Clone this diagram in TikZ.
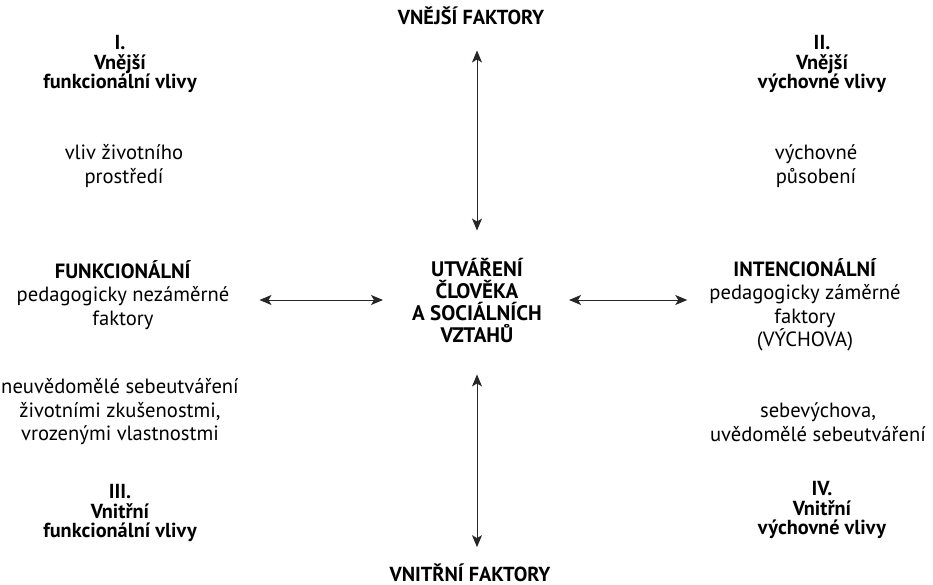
\documentclass[tikz,border=0pt]{standalone}
\usepackage{fontspec}
\setmainfont{PT Sans}
\usetikzlibrary{arrows.meta}
\tikzset{
  txt/.style={align=center, inner sep=0pt, font=\fontsize{20.6}{23.5}\selectfont},
  ttl/.style={align=center, inner sep=0pt, font=\bfseries\fontsize{20.3}{19.5}\selectfont},
  arr/.style={{Stealth[length=12pt,width=10pt,inset=3pt]}-{Stealth[length=12pt,width=10pt,inset=3pt]}, line width=1pt, draw=black!85}
}
\begin{document}
\begin{tikzpicture}[x=1pt,y=-1pt]
  \useasboundingbox (0,0) rectangle (933,585);
  % axis labels
  \node[ttl, anchor=base] (vf) at (471,25) {VNĚJŠÍ FAKTORY};
  \node[ttl, anchor=base] (nf) at (470,581) {VNITŘNÍ FAKTORY};
  % centre
  \node[ttl, font=\bfseries\fontsize{21}{22}\selectfont] (cen) at (477,300) {UTVÁŘENÍ\\ČLOVĚKA\\A SOCIÁLNÍCH\\VZTAHŮ};
  % left side
  \node[ttl] (q1) at (120,64) {I.\\Vnější\\funkcionální vlivy};
  \node[txt] (q1t) at (124,166) {vliv životního\\prostředí};
  \node[txt] (fun) at (123,295) {\textbf{FUNKCIONÁLNÍ}\\pedagogicky nezáměrné\\faktory};
  \node[txt] (q3t) at (120,412) {neuvědomělé sebeutváření\\životními zkušenostmi,\\vrozenými vlastnostmi};
  \node[ttl] (q3) at (120,513) {III.\\Vnitřní\\funkcionální vlivy};
  % right side
  \node[ttl] (q2) at (822,64) {II.\\Vnější\\výchovné vlivy};
  \node[txt] (q2t) at (816,166) {výchovné\\působení};
  \node[txt] (int) at (805,305) {\textbf{INTENCIONÁLNÍ}\\pedagogicky záměrné\\faktory\\(VÝCHOVA)};
  \node[txt] (q4t) at (818,422) {sebevýchova,\\uvědomělé sebeutváření};
  \node[ttl] (q4) at (822,510) {IV.\\Vnitřní\\výchovné vlivy};
  % arrows
  \draw[arr, shorten <=25pt, shorten >=27pt] (vf.south -| cen.north) -- (cen.north);
  \draw[arr, shorten <=32pt, shorten >=16pt] (cen.south) -- (nf.north -| cen.south);
  \draw[arr, shorten <=30pt, shorten >=29pt] (cen.west -| fun.east) -- (cen.west);
  \draw[arr, shorten <=27pt, shorten >=22pt] (cen.east) -- (cen.east -| int.west);
\end{tikzpicture}
\end{document}
